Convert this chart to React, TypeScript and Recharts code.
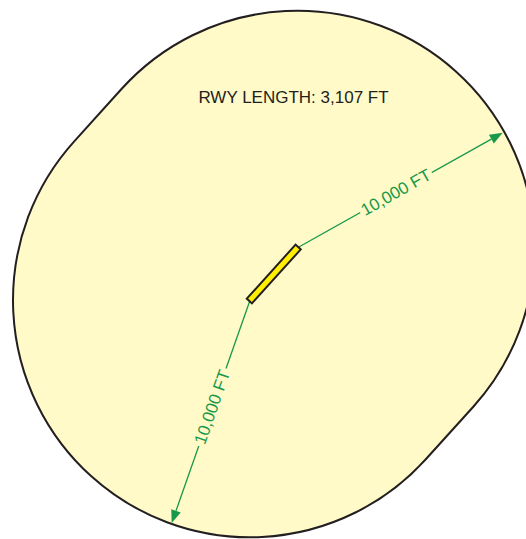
import React from 'react';
import * as R from 'recharts';

const { ScatterChart, Scatter, XAxis, YAxis, Customized } = R as any;

// ---------- data (feet, runway-centred coordinates, y up) ----------
const RUNWAY_LABEL = 'RWY LENGTH: 3,107 FT';
const BUFFER_RADIUS_FT = 10000;
const runwayEnds = [
  { x: -1002, y: -1108 },
  { x: 1002, y: 1108 },
];
const arrowStarts = [
  { x: 1002, y: 1108 },
  { x: -1002, y: -1108 },
];
const arrowTips = [
  { x: 9660, y: 5960 },
  { x: -4307, y: -10510 },
];
const arrowLabels = ['10,000 FT', '10,000 FT'];
const xDomain = [-11551, 10643];
const yDomain = [-11181, 11561];

// ---------- style ----------
const W = 526;
const H = 539;
const FILL = '#FFFAC8';
const OUTLINE = '#231F20';
const GREEN = '#17994A';
const RWY_YELLOW = '#FFF000';
const FONT = '"Liberation Sans", Arial, sans-serif';

function useScales() {
  const anyR = R as any;
  let sx: any;
  let sy: any;
  if (typeof anyR.useXAxisScale === 'function' && typeof anyR.useYAxisScale === 'function') {
    sx = anyR.useXAxisScale(0);
    sy = anyR.useYAxisScale(0);
  }
  let off: any;
  if (typeof anyR.useOffset === 'function') off = anyR.useOffset();
  if (typeof sx === 'function' && typeof sy === 'function') return { sx, sy };
  const left = off?.left ?? 0;
  const top = off?.top ?? 0;
  const w = off?.width ?? W;
  const h = off?.height ?? H;
  return {
    sx: (v: number) => left + ((v - xDomain[0]) / (xDomain[1] - xDomain[0])) * w,
    sy: (v: number) => top + ((yDomain[1] - v) / (yDomain[1] - yDomain[0])) * h,
  };
}

function Overlay() {
  const { sx, sy } = useScales();
  const A = { x: sx(runwayEnds[0].x), y: sy(runwayEnds[0].y) };
  const B = { x: sx(runwayEnds[1].x), y: sy(runwayEnds[1].y) };
  const Rpx = Math.abs(sx(BUFFER_RADIUS_FT) - sx(0));
  const dx = B.x - A.x;
  const dy = B.y - A.y;
  const L = Math.hypot(dx, dy);
  const ux = dx / L;
  const uy = dy / L;
  const nx = -uy;
  const ny = ux;
  const p = (P: any, s: number) => `${P.x + nx * Rpx * s} ${P.y + ny * Rpx * s}`;
  const path = `M ${p(A, 1)} L ${p(B, 1)} A ${Rpx} ${Rpx} 0 0 0 ${p(B, -1)} L ${p(A, -1)} A ${Rpx} ${Rpx} 0 0 0 ${p(A, 1)} Z`;
  const rwyAngle = (Math.atan2(dy, dx) * 180) / Math.PI;
  const mid = { x: (A.x + B.x) / 2, y: (A.y + B.y) / 2 };

  return (
    <g>
      <path d={path} fill={FILL} stroke={OUTLINE} strokeWidth={2} />
      <text
        x={293.5}
        y={103}
        textAnchor="middle"
        fontFamily={FONT}
        fontSize={17}
        fill={OUTLINE}
      >
        {RUNWAY_LABEL}
      </text>
      {arrowStarts.map((s, i) => {
        const S = { x: sx(s.x), y: sy(s.y) };
        const T = { x: sx(arrowTips[i].x), y: sy(arrowTips[i].y) };
        const adx = T.x - S.x;
        const ady = T.y - S.y;
        const al = Math.hypot(adx, ady);
        const ax = adx / al;
        const ay = ady / al;
        const head = 13;
        const hw = 5;
        const bx = T.x - ax * head;
        const by = T.y - ay * head;
        const poly = `${T.x},${T.y} ${bx - ay * hw},${by + ax * hw} ${bx + ay * hw},${by - ax * hw}`;
        const t = 0.48;
        const cx = S.x + adx * t;
        const cy = S.y + ady * t;
        let ang = (Math.atan2(ady, adx) * 180) / Math.PI;
        if (ang > 90) ang -= 180;
        if (ang < -90) ang += 180;
        const tw = 82;
        return (
          <g key={i}>
            <line x1={S.x} y1={S.y} x2={bx} y2={by} stroke={GREEN} strokeWidth={1.3} />
            <polygon points={poly} fill={GREEN} />
            <g transform={`translate(${cx} ${cy}) rotate(${ang})`}>
              <rect x={-tw / 2} y={-3} width={tw} height={6} fill={FILL} />
              <text
                x={0}
                y={0}
                textAnchor="middle"
                dominantBaseline="central"
                fontFamily={FONT}
                fontSize={17}
                fill={GREEN}
              >
                {arrowLabels[i]}
              </text>
            </g>
          </g>
        );
      })}
      <g transform={`translate(${mid.x} ${mid.y}) rotate(${rwyAngle})`}>
        <rect x={-L / 2 - 1} y={-3.5} width={L + 2} height={7} fill={RWY_YELLOW} stroke={OUTLINE} strokeWidth={2} />
      </g>
    </g>
  );
}

export default function App() {
  return (
    <div style={{ position: 'absolute', left: 0, top: 0, width: W, height: H, background: '#fff' }}>
      <ScatterChart width={W} height={H} margin={{ top: 0, right: 0, bottom: 0, left: 0 }}>
        <XAxis type="number" dataKey="x" domain={xDomain} allowDataOverflow hide />
        <YAxis type="number" dataKey="y" domain={yDomain} allowDataOverflow hide />
        <Scatter data={runwayEnds} isAnimationActive={false} shape={() => <g />} />
        <Customized component={<Overlay />} />
      </ScatterChart>
    </div>
  );
}
